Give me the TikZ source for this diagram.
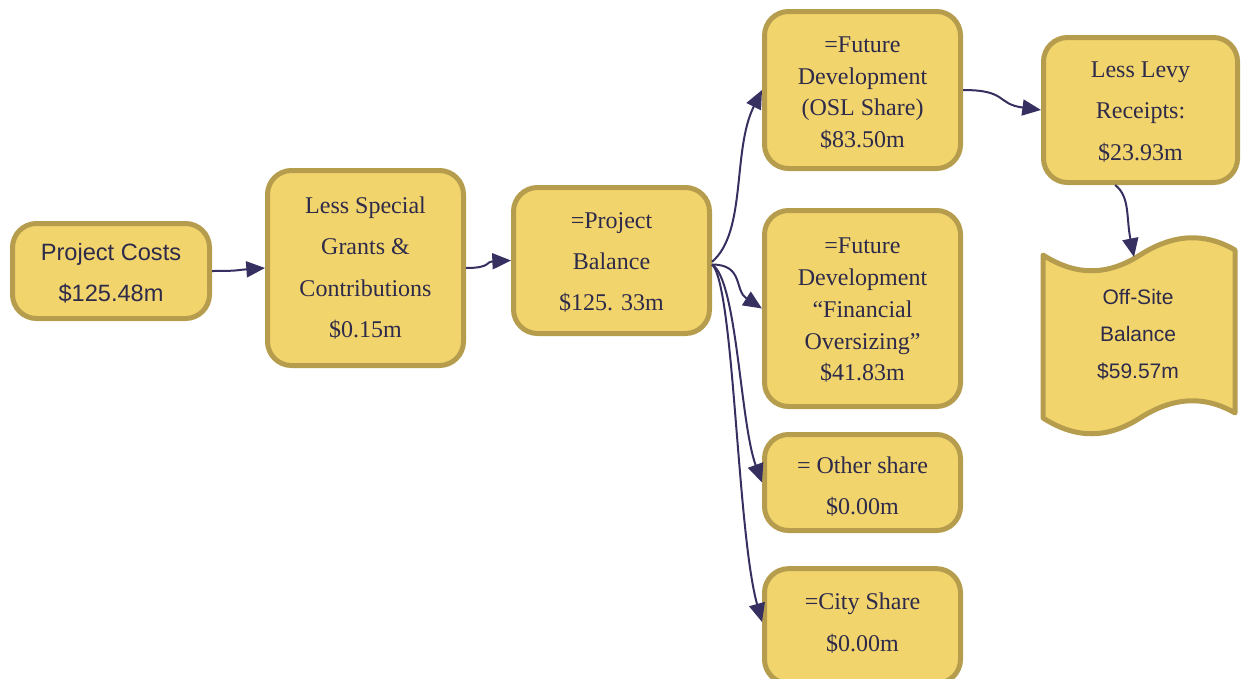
\documentclass[tikz,border=0pt]{standalone}
\usepackage{fontspec}
\setmainfont{Liberation Serif}
\newfontfamily\sansf{Liberation Sans}
\usetikzlibrary{arrows.meta}
\definecolor{fillc}{HTML}{F2D46D}
\definecolor{bord}{HTML}{B59D4D}
\definecolor{txt}{HTML}{2D2A4A}
\definecolor{arr}{HTML}{35305F}
\tikzset{
  box/.style={draw=bord, fill=fillc, line width=3.75pt, rounded corners=18pt,
    inner sep=0pt, minimum width=147pt},
  lbl/.style={text=txt, align=center, inner sep=0pt},
  wide/.style={font=\fontsize{18}{31}\selectfont},
  dense/.style={font=\fontsize{18}{23.8}\selectfont},
  conn/.style={draw=arr, line width=1.5pt, -{Triangle[length=14pt,width=12pt]}}
}
\begin{document}
\begin{tikzpicture}[x=0.75pt,y=-0.75pt]
\useasboundingbox (0,0) rectangle (1241,678);
\clip (0,0) rectangle (1241,678);
% boxes
\node[box, minimum width=147.75pt, minimum height=71.25pt] (pc) at (111,271) {};
\node[box, minimum height=146.25pt] (ls) at (365.5,268) {};
\node[box, minimum height=109.5pt] (pb) at (611.5,260.5) {};
\node[box, minimum height=117.75pt] (osl) at (862.5,90) {};
\node[box, minimum height=147pt] (fin) at (862.5,308.5) {};
\node[box, minimum height=72pt] (oth) at (862.5,482.5) {};
\node[box, minimum height=86pt] (city) at (862.5,626) {};
\node[box, minimum width=145.5pt, minimum height=108.75pt] (levy) at (1140.5,110) {};
% off-site tape shape
\draw[draw=bord, fill=fillc, line width=3.75pt, line join=round]
  (1043,255) .. controls (1076,276) and (1107,276) .. (1140,255)
  .. controls (1173,234) and (1204,232) .. (1235,250)
  -- (1235,413)
  .. controls (1204,395) and (1173,397) .. (1140,418)
  .. controls (1107,439) and (1076,439) .. (1043,418) -- cycle;
% texts
\node[lbl, font=\sansf\fontsize{17.7}{31}\selectfont, yshift=-1.5pt] (pct) at (pc) {Project Costs\\\$125.48m};
\node[lbl, wide] (lst) at (ls) {Less Special\\Grants \&\\Contributions\\\$0.15m};
\node[lbl, wide, yshift=-1.5pt] (pbt) at (pb) {=Project\\Balance\\\$125. 33m};
\node[lbl, dense, yshift=-2.25pt] (oslt) at (osl) {=Future\\Development\\(OSL Share)\\\$83.50m};
\node[lbl, dense, yshift=-1.5pt] (fint) at (fin) {=Future\\Development\\``Financial\\Oversizing''\\\$41.83m};
\node[lbl, wide, yshift=-3pt] (otht) at (oth) {= Other share\\\$0.00m};
\node[lbl, wide, yshift=2.25pt] (cityt) at (city) {=City Share\\\$0.00m};
\node[lbl, wide, yshift=-1.5pt] (levyt) at (levy) {Less Levy\\Receipts:\\\$23.93m};
\node[lbl, font=\sansf\fontsize{15.75}{27.75}\selectfont] (os) at (1138,335) {Off-Site\\Balance\\\$59.57m};
\coordinate (osin) at (1134,257);
% connectors
\draw[conn] (pc.east) .. controls +(28,0) and +(-28,2) .. (ls.west);
\draw[conn] (ls.east) .. controls +(25,0) and +(-25,1) .. (pb.west);
\draw[conn] ([yshift=-1pt]pb.east) .. controls +(35,-30) and +(-30,60) .. (osl.west);
\draw[conn] ([yshift=-3pt]pb.east) .. controls +(32,0) and +(-28,-18) .. (fin.west);
\draw[conn] ([yshift=-3pt]pb.east) .. controls +(25,15) and +(-22,-60) .. (oth.west);
\draw[conn] ([yshift=-3pt]pb.east) .. controls +(22,20) and +(-25,-90) .. ([yshift=3pt]city.west);
\draw[conn] (osl.east) .. controls +(45,0) and +(-45,-6) .. (levy.west);
\draw[conn] ([xshift=-19pt]levy.south) .. controls +(15,12) and +(-8,-40) .. (osin);
\end{tikzpicture}
\end{document}
